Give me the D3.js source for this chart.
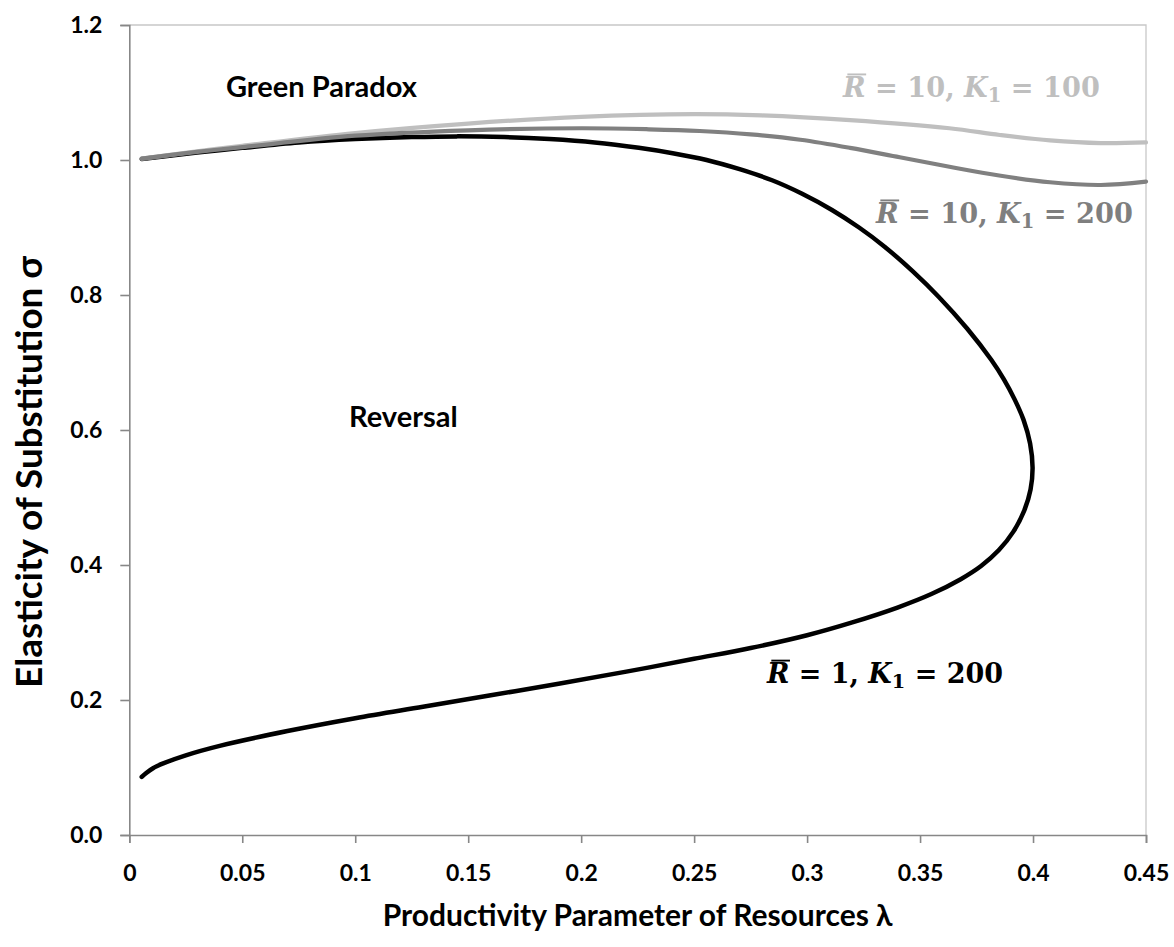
<!DOCTYPE html>
<html>
<head>
<meta charset="utf-8">
<script src="https://cdn.jsdelivr.net/npm/d3@7"></script>
<style>
  html, body { margin: 0; padding: 0; background: #fff; }
  svg { display: block; }
  text { font-family: Lato, "Open Sans", sans-serif; font-weight: 700; }
</style>
</head>
<body>
<svg id="chart" width="1174" height="947"></svg>
<script>
// Boundary curve R̄ = 1, K1 = 200 (in order along the curve: lower branch, nose, upper branch)
const lambdaR1K200 = [0.0055, 0.0075, 0.0105, 0.015, 0.025, 0.04, 0.07, 0.1, 0.13, 0.16, 0.19, 0.22, 0.25, 0.275, 0.3, 0.32, 0.34, 0.355, 0.368, 0.377, 0.3849, 0.3913, 0.396, 0.3989, 0.3998,
                      0.3987, 0.3958, 0.3919, 0.3871, 0.3815, 0.3709, 0.3582, 0.3468, 0.3343, 0.323, 0.311, 0.2978, 0.2845, 0.2705, 0.2555, 0.2405, 0.2255, 0.206, 0.186, 0.166, 0.145, 0.125, 0.1, 0.075, 0.05, 0.03, 0.0055];
const sigmaR1K200  = [0.086, 0.092, 0.099, 0.106, 0.118, 0.132, 0.154, 0.173, 0.19, 0.207, 0.224, 0.242, 0.261, 0.277, 0.296, 0.315, 0.337, 0.357, 0.379, 0.3985, 0.4221, 0.4494, 0.4797, 0.5119, 0.544,
                      0.58, 0.615, 0.645, 0.675, 0.704, 0.75, 0.7975, 0.835, 0.8716, 0.9, 0.926, 0.95, 0.97, 0.986, 1.0, 1.01, 1.018, 1.026, 1.031, 1.034, 1.035, 1.034, 1.031, 1.026, 1.018, 1.011, 1.0015];

// Boundary curve R̄ = 10, K1 = 200
const lambdaR10K200 = [0.0055, 0.03, 0.05, 0.1, 0.15, 0.2, 0.23, 0.2525, 0.275, 0.297, 0.319, 0.341, 0.363, 0.385, 0.4075, 0.43, 0.45];
const sigmaR10K200  = [1.002, 1.012, 1.019, 1.036, 1.044, 1.047, 1.0455, 1.043, 1.038, 1.030, 1.018, 1.004, 0.99, 0.977, 0.967, 0.963, 0.968];

// Boundary curve R̄ = 10, K1 = 100
const lambdaR10K100 = [0.0055, 0.03, 0.05, 0.1, 0.15, 0.2, 0.25, 0.28, 0.319, 0.363, 0.3853, 0.4075, 0.43, 0.45];
const sigmaR10K100  = [1.002, 1.013, 1.021, 1.040, 1.054, 1.064, 1.068, 1.066, 1.059, 1.047, 1.037, 1.029, 1.025, 1.026];

// Axis ticks and labels
const xTickValues = [0, 0.05, 0.1, 0.15, 0.2, 0.25, 0.3, 0.35, 0.4, 0.45];
const xTickLabels = ["0", "0.05", "0.1", "0.15", "0.2", "0.25", "0.3", "0.35", "0.4", "0.45"];
const yTickValues = [0, 0.2, 0.4, 0.6, 0.8, 1.0, 1.2];
const yTickLabels = ["0.0", "0.2", "0.4", "0.6", "0.8", "1.0", "1.2"];

const xTitle = "Productivity Parameter of Resources λ";
const yTitle = "Elasticity of Substitution σ";

const svg = d3.select("#chart");
const plot = { left: 129.3, right: 1146, top: 25, bottom: 835 };

const x = d3.scaleLinear().domain([0, 0.45]).range([plot.left, plot.right]);
const y = d3.scaleLinear().domain([0, 1.2]).range([plot.bottom, plot.top]);

// Plot-area border (top and right)
svg.append("path")
  .attr("d", `M${plot.left},${plot.top}H${plot.right}V${plot.bottom}`)
  .attr("fill", "none").attr("stroke", "#c8c8c8").attr("stroke-width", 1.3);

// Axes
const xAxis = svg.append("g")
  .attr("transform", `translate(0,${plot.bottom})`)
  .call(d3.axisBottom(x).tickValues(xTickValues)
    .tickFormat((d, i) => xTickLabels[i]).tickSizeOuter(0).tickSize(8));
const yAxis = svg.append("g")
  .attr("transform", `translate(${plot.left},0)`)
  .call(d3.axisLeft(y).tickValues(yTickValues)
    .tickFormat((d, i) => yTickLabels[i]).tickSizeOuter(0).tickSize(9).tickPadding(18));

[xAxis, yAxis].forEach(g => {
  g.select(".domain").attr("stroke", "#878787").attr("stroke-width", 1.6);
  g.selectAll(".tick line").attr("stroke", "#878787").attr("stroke-width", 1.6);
  g.selectAll(".tick text")
    .attr("fill", "#000")
    .style("font-family", "Lato, sans-serif")
    .style("font-weight", 700)
    .style("font-size", "23px");
});
xAxis.selectAll(".tick text").attr("dy", null).attr("y", 46);

// Curves
const curvePath = (lams, sigs) => d3.line()
  .x(d => x(d[0])).y(d => y(d[1]))
  .curve(d3.curveCatmullRom.alpha(0.5))(d3.zip(lams, sigs));

svg.append("path")
  .attr("d", curvePath(lambdaR1K200, sigmaR1K200))
  .attr("fill", "none").attr("stroke", "#000").attr("stroke-width", 4.5)
  .attr("stroke-linecap", "round").attr("stroke-linejoin", "round");
svg.append("path")
  .attr("d", curvePath(lambdaR10K100, sigmaR10K100))
  .attr("fill", "none").attr("stroke", "#bfbfbf").attr("stroke-width", 4.2)
  .attr("stroke-linecap", "round").attr("stroke-linejoin", "round");
svg.append("path")
  .attr("d", curvePath(lambdaR10K200, sigmaR10K200))
  .attr("fill", "none").attr("stroke", "#808080").attr("stroke-width", 4.2)
  .attr("stroke-linecap", "round").attr("stroke-linejoin", "round");

// Sizes a text so it spans the given width
function fitWidth(sel, width, start) {
  sel.style("font-size", start + "px");
  const len = sel.node().getComputedTextLength();
  const size = start * width / len;
  sel.style("font-size", size + "px");
  return size;
}

// Axis titles
const xt = svg.append("text")
  .attr("x", (plot.left + plot.right) / 2).attr("y", 926)
  .attr("text-anchor", "middle").attr("fill", "#000")
  .text(xTitle);
fitWidth(xt, 510, 24);

const yt = svg.append("text")
  .attr("transform", `translate(42,472) rotate(-90)`)
  .attr("text-anchor", "middle").attr("fill", "#000")
  .text(yTitle);
fitWidth(yt, 432, 24);

// Region labels
const gp = svg.append("text").attr("x", 226).attr("y", 97).attr("fill", "#000").text("Green Paradox");
const regionSize = fitWidth(gp, 191, 24);
svg.append("text").attr("x", 349).attr("y", 427).attr("fill", "#000")
  .style("font-size", regionSize + "px").text("Reversal");

// Curve labels: R̄ = n, K₁ = m
function mathLabel(xPos, baseline, width, rbar, k1, color) {
  const t = svg.append("text")
    .attr("x", xPos).attr("y", baseline).attr("fill", color)
    .style("font-family", "'DejaVu Serif', 'Liberation Serif', serif")
    .style("font-weight", 700)
    .attr("xml:space", "preserve");
  t.append("tspan").style("font-style", "italic").text("R");
  t.append("tspan").text(` = ${rbar}, `);
  t.append("tspan").style("font-style", "italic").text("K");
  t.append("tspan").attr("dy", "0.25em").style("font-size", "0.72em").text("1");
  t.append("tspan").attr("dy", "-0.18em").text(` = ${k1}`);
  const size = fitWidth(t, width, 28);
  // Overbar on R
  const ext = t.node().getExtentOfChar(0);
  const barY = baseline - size * 0.83;
  svg.append("line")
    .attr("x1", ext.x + size * 0.16).attr("x2", ext.x + ext.width + size * 0.02)
    .attr("y1", barY).attr("y2", barY)
    .attr("stroke", color).attr("stroke-width", size * 0.07);
}
mathLabel(843, 97, 257, 10, 100, "#bfbfbf");
mathLabel(876, 223, 257, 10, 200, "#7f7f7f");
mathLabel(767, 683, 236, 1, 200, "#000");
</script>
</body>
</html>
